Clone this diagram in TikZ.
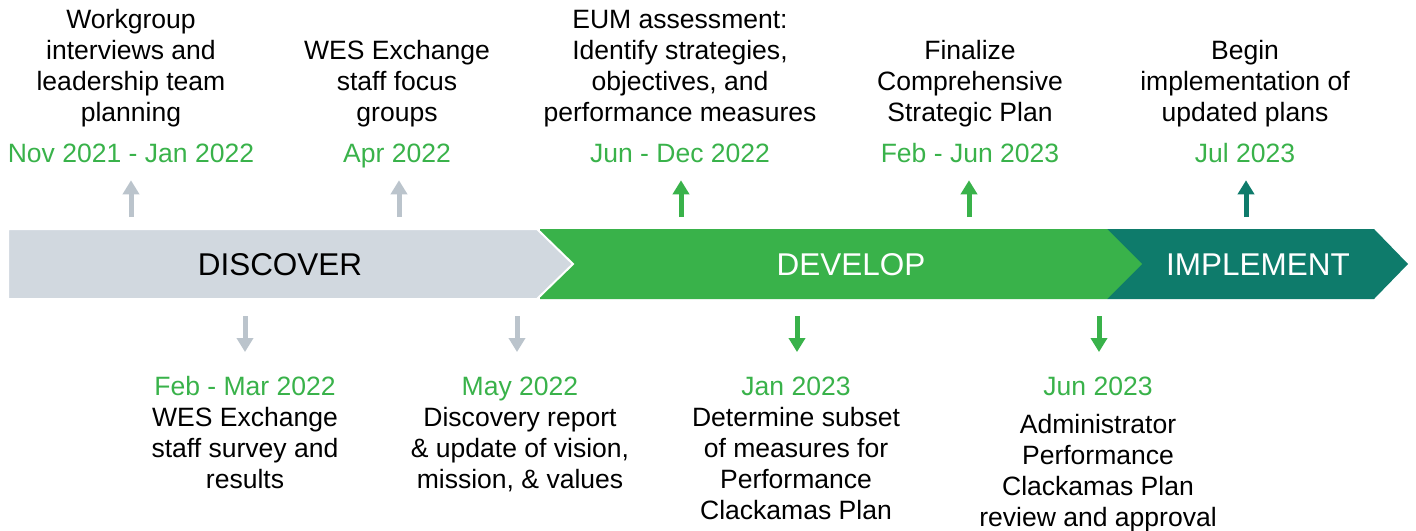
\documentclass[tikz,border=0pt]{standalone}
\usepackage{fontspec}
\setmainfont{Liberation Sans}
\usetikzlibrary{arrows.meta}
\definecolor{bandgray}{HTML}{D1D8DF}
\definecolor{arrgray}{HTML}{BBC4CC}
\definecolor{wesgreen}{HTML}{39B24A}
\definecolor{westeal}{HTML}{0E7B6B}
\tikzset{
  desc/.style={align=center, inner sep=0pt, anchor=base,
               font=\fontsize{19.9}{23.25}\selectfont},
  when/.style={desc, text=wesgreen, text height=14pt, text depth=4pt},
  phase/.style={inner sep=0pt, anchor=base, font=\fontsize{23.6}{28}\selectfont},
  tick/.style={-{Triangle[width=12pt,length=10.5pt]}, line width=3.75pt},
  upgray/.style={tick, color=arrgray, shorten >=9.5pt},
  upgreen/.style={tick, color=wesgreen, shorten >=9.5pt},
  upteal/.style={tick, color=westeal, shorten >=9.5pt},
  dngray/.style={tick, color=arrgray, shorten >=18pt},
  dngreen/.style={tick, color=wesgreen, shorten >=18pt}}

\begin{document}
\begin{tikzpicture}[x=0.75pt, y=-0.75pt]
  \useasboundingbox (0,0) rectangle (1416,531);

  % the three phase chevrons, last one first so the tips overlap
  \fill[westeal] (1107,229) -- (1374,229) -- (1408,264) -- (1374,299) -- (1107,299) -- cycle;
  \fill[wesgreen] (540,229) -- (1107,229) -- (1142,264) -- (1107,299) -- (540,299) -- cycle;
  \filldraw[fill=bandgray, draw=white, line width=1.5pt]
    (8,229) -- (537,229) -- (573,264) -- (537,299) -- (8,299) -- cycle;
  \node[phase] (discover) at (280,275) {DISCOVER};
  \node[phase, text=white] (develop) at (851,275) {DEVELOP};
  \node[phase, text=white] (implement) at (1258,275) {IMPLEMENT};

  % milestones above the band (nodes sit on their last line)
  \node[desc] (ev1) at (131,122) {Workgroup\\interviews and\\leadership team\\planning};
  \node[when] (dt1) at (131,162) {Nov 2021 - Jan 2022};
  \node[desc] (ev2) at (397,122) {WES Exchange\\staff focus\\groups};
  \node[when] (dt2) at (397,162) {Apr 2022};
  \node[desc] (ev3) at (680,122) {EUM assessment:\\Identify strategies,\\objectives, and\\performance measures};
  \node[when] (dt3) at (680,162) {Jun - Dec 2022};
  \node[desc] (ev4) at (970,122) {Finalize\\Comprehensive\\Strategic Plan};
  \node[when] (dt4) at (970,162) {Feb - Jun 2023};
  \node[desc] (ev5) at (1245,122) {Begin\\implementation of\\updated plans};
  \node[when] (dt5) at (1245,162) {Jul 2023};

  % milestones below the band
  \node[when] (dt6) at (245,395) {Feb - Mar 2022};
  \node[desc] (ev6) at (245,488) {WES Exchange\\staff survey and\\results};
  \node[when] (dt7) at (520,395) {May 2022};
  \node[desc] (ev7) at (520,488) {Discovery report\\\& update of vision,\\mission, \& values};
  \node[when] (dt8) at (796,395) {Jan 2023};
  \node[desc] (ev8) at (796,519) {Determine subset\\of measures for\\Performance\\Clackamas Plan};
  \node[when] (dt9) at (1098,395) {Jun 2023};
  \node[desc] (ev9) at (1098,526) {Administrator\\Performance\\Clackamas Plan\\review and approval};

  % arrow feet on the band
  \coordinate (a1) at (131,217);
  \coordinate (a2) at (399,217);
  \coordinate (a3) at (681,217);
  \coordinate (a4) at (969,217);
  \coordinate (a5) at (1246,217);
  \coordinate (a6) at (245,316);
  \coordinate (a7) at (517,316);
  \coordinate (a8) at (797,316);
  \coordinate (a9) at (1099,316);

  \draw[upgray] (a1) -- (a1 |- dt1.south);
  \draw[upgray] (a2) -- (a2 |- dt2.south);
  \draw[upgreen] (a3) -- (a3 |- dt3.south);
  \draw[upgreen] (a4) -- (a4 |- dt4.south);
  \draw[upteal] (a5) -- (a5 |- dt5.south);
  \draw[dngray] (a6) -- (a6 |- dt6.north);
  \draw[dngray] (a7) -- (a7 |- dt7.north);
  \draw[dngreen] (a8) -- (a8 |- dt8.north);
  \draw[dngreen] (a9) -- (a9 |- dt9.north);
\end{tikzpicture}
\end{document}
